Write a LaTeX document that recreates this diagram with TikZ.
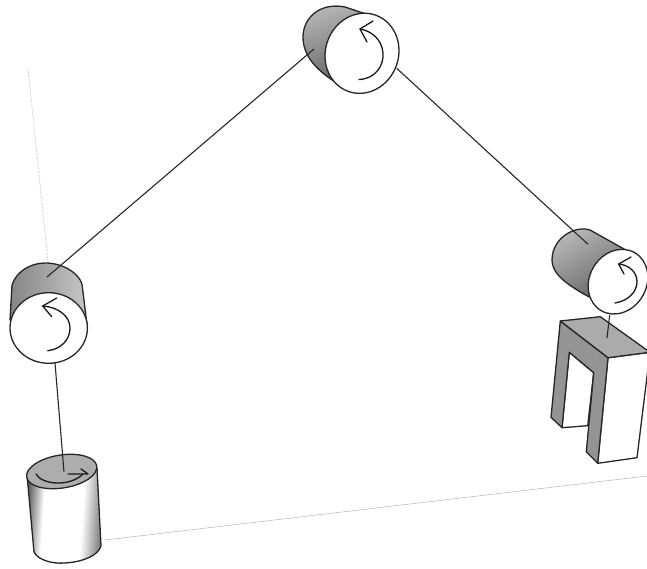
\documentclass[tikz,border=0pt]{standalone}
\usepackage{xcolor}
\usepackage{tikz}
\usetikzlibrary{calc}
\pgfdeclarehorizontalshading{drum}{100bp}{color(0bp)=(black!65); color(25bp)=(black!65);
  color(36bp)=(white); color(62bp)=(white); color(75bp)=(black!50); color(100bp)=(black!50)}

\begin{document}
\begin{tikzpicture}[
  x=1pt, y=-1pt,
  outline/.style={draw=black!85, line width=1.3pt, line join=round},
  pulleyface/.style={outline, fill=white},
  cable/.style={draw=black!85, line width=1.1pt},
  curl/.style={draw=black!90, line width=1.3pt, line cap=round, line join=round},
  guide/.style={draw=black!35, line width=0.4pt},
  standgray/.style={outline, fill=black!42},
]
  \useasboundingbox (0,0) rectangle (647,569);
  \clip (0,0) rectangle (647,569);

  \coordinate (guideA) at (28,68);
  \coordinate (guideB) at (48,262);
  \coordinate (guideC) at (105,540);
  \coordinate (guideD) at (647,476);
  \draw[guide, draw=black!60, densely dotted] (guideA) -- (guideB);
  \draw[guide] (guideC) -- (guideD);

  % hanging weight
  \path[outline, shading=drum, shading angle=-4]
    (27,475) -- (34,552) .. controls (38,560) and (52,564) .. (65,563)
    .. controls (82,562) and (98,556) .. (101,546) -- (97,468) -- cycle;
  \draw[outline, fill=black!32, shift={(61.7,471.5)}, rotate=9]
    (0,0) ellipse [x radius=35.5, y radius=16.5];
  \draw[curl] (36,474) .. controls (42,485) and (70,487) .. (83,474);
  \draw[curl] (68,474) -- (88,474) -- (81,469);

  % block on the right
  \draw[pulleyface] (608,357.7) -- (650,352.3) -- (637,457.7) -- (597.7,463.3) -- cycle;
  \draw[pulleyface] (569.3,352.3) -- (593.7,372.7) -- (587.7,425.7) -- (562,427.7) -- cycle;
  \draw[standgray] (560.3,321) -- (608,357.7) -- (597.7,463.3) -- (586.3,451.7)
    -- (593.7,372.7) -- (569.3,352.3) -- (562,427.7) -- (551,417.3) -- cycle;
  \draw[outline, fill=black!33] (560.3,321) -- (600.3,316.7) -- (650,352.3) -- (608,357.7) -- cycle;

  % pulley bodies
  \path[outline, top color=black!28, bottom color=black!62, shading angle=20]
    (366,14) -- (345,7) .. controls (320,2) and (303,18) .. (303,37)
    .. controls (303,55) and (315,70) .. (340,85) -- cycle;
  \path[outline, left color=black!48, right color=black!22]
    (10,320) -- (12,285) .. controls (16,272) and (30,263) .. (45,263)
    .. controls (62,263) and (78,272) .. (82,284) -- (87,325) -- cycle;
  \path[outline, top color=black!28, bottom color=black!62, shading angle=30]
    (633,254) -- (590,230) .. controls (575,225) and (552,238) .. (552,260)
    .. controls (552,272) and (562,283) .. (595,300) -- cycle;

  % pulley faces
  \draw[pulleyface, shift={(362,53.3)}, rotate=-20]
    (0,0) ellipse [x radius=36.5, y radius=40.5];
  \draw[pulleyface, shift={(48.7,328)}]
    (0,0) ellipse [x radius=38.7, y radius=35.3];
  \draw[pulleyface, shift={(618,281.7)}, rotate=-30]
    (0,0) ellipse [x radius=28.5, y radius=33.5];

  % cables
  \coordinate (topIn) at (314,49);
  \coordinate (topOut) at (396.7,68.3);
  \coordinate (leftIn) at (47,277);
  \coordinate (leftOut) at (55,363);
  \coordinate (rightIn) at (588,244.3);
  \coordinate (rightOut) at (609.7,315);
  \coordinate (weightTop) at (64,472);
  \coordinate (blockTop) at (607,338);
  \draw[cable] (topIn) -- (leftIn);
  \draw[cable] (topOut) -- (rightIn);
  \draw[cable] (leftOut) -- (weightTop);
  \draw[cable] (rightOut) -- (blockTop);

  % rotation marks
  \draw[curl] (359,79.5) .. controls (375,79) and (384,66) .. (383,53)
    .. controls (382,40) and (372,31) .. (360,29);
  \draw[curl] (373,21) -- (360,29) -- (367,42);
  \draw[curl] (47.7,350.7) .. controls (62,349) and (70,339) .. (70,328)
    .. controls (70,316) and (58,307) .. (42.7,306);
  \draw[curl] (56.7,298) -- (42.7,306) -- (51.7,316.7);
  \draw[curl] (615,303) .. controls (628,301) and (637,292) .. (637,281.7)
    .. controls (637,272) and (629,265) .. (618.7,264);
  \draw[curl] (631,257) -- (618.7,264) -- (624,274);
\end{tikzpicture}
\end{document}
